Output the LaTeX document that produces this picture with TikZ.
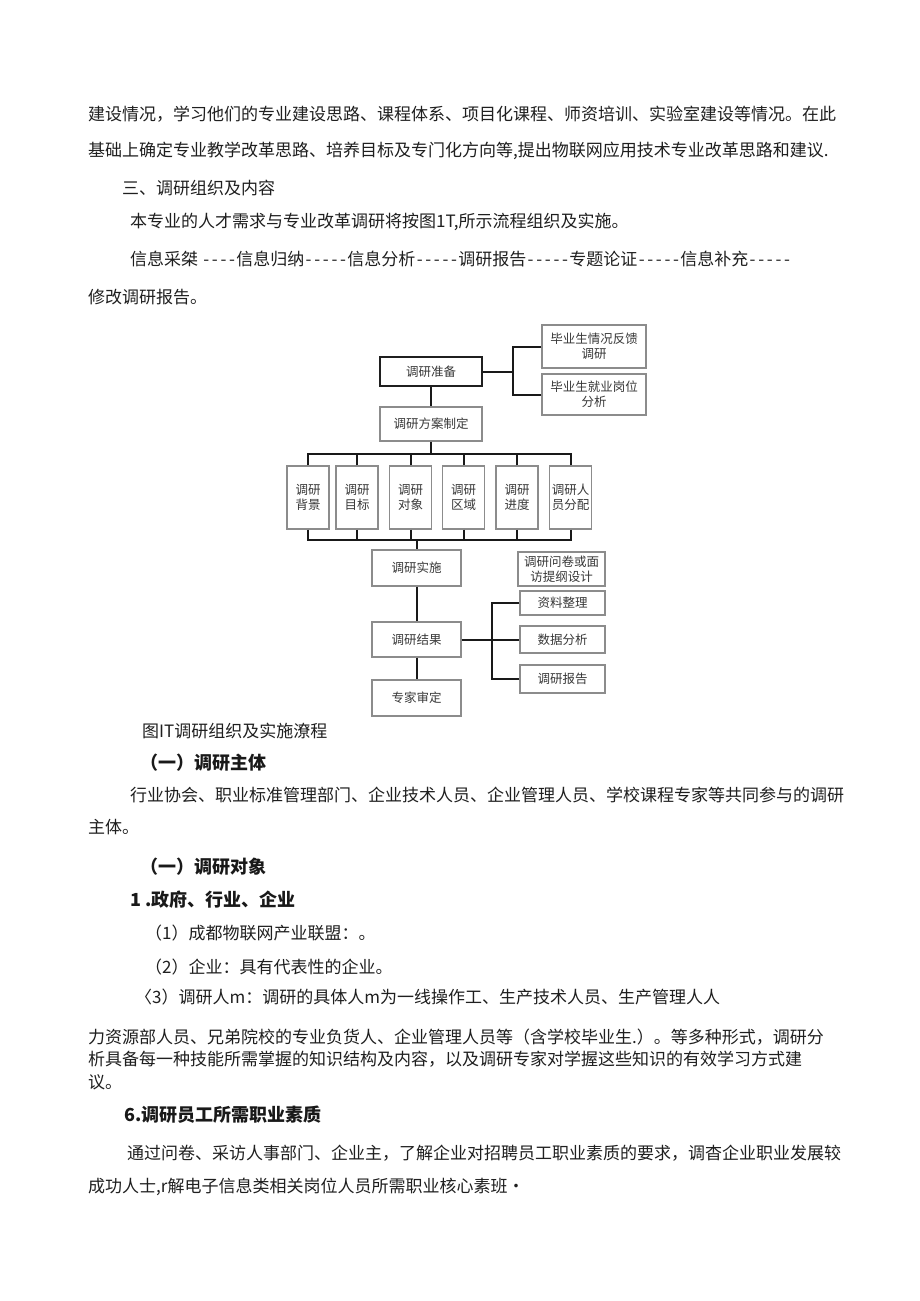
\documentclass[tikz,border=0pt]{standalone}
\usepackage{fontspec}
\setmainfont{Noto Sans CJK SC}
\XeTeXlinebreaklocale "zh"
\XeTeXlinebreakskip=0pt plus 3pt
\newcommand{\hy}{\makebox[8.6pt]{-}}
\begin{document}
\begin{tikzpicture}[x=1pt,y=-1pt,
  txt/.style={anchor=west,inner sep=0pt,font=\fontsize{17}{20}\selectfont,text=black!88},
  hd/.style={anchor=west,inner sep=0pt,font=\fontsize{18}{21}\selectfont\bfseries,text=black!90},
  box/.style={draw=black!45,line width=1.3pt,inner sep=1pt,align=center,font=\fontsize{12.5}{15}\selectfont,text=black!78},
  thickbox/.style={box,draw=black!88,line width=2.5pt},
  conn/.style={draw=black!90,line width=2pt}]
\fill[white] (0,0) rectangle (920,1301);
\useasboundingbox (0,0) rectangle (920,1301);

% ---- text above ----
\node[txt] (t1) at (88,114) {\makebox[750pt][s]{建设情况，学习他们的专业建设思路、课程体系、项目化课程、师资培训、实验室建设等情况。在此}};
\node[txt] (t2) at (88,151) {\makebox[750pt][s]{基础上确定专业教学改革思路、培养目标及专门化方向等,提出物联网应用技术专业改革思路和建议.}};
\node[txt] (t3) at (122,188) {三、调研组织及内容};
\node[txt] (t4) at (130,222) {本专业的人才需求与专业改革调研将按图1T,所示流程组织及实施。};
\node[txt] (t5) at (130,259) {信息采桀 \hy\hy\hy\hy 信息归纳\hy\hy\hy\hy\hy 信息分析\hy\hy\hy\hy\hy 调研报告\hy\hy\hy\hy\hy 专题论证\hy\hy\hy\hy\hy 信息补充\hy\hy\hy\hy\hy};
\node[txt] (t6) at (88,297) {修改调研报告。};

% ---- diagram ----
\node[thickbox,minimum width=102pt,minimum height=29pt] (prep) at (431,371.5) {调研准备};
\node[box,minimum width=102pt,minimum height=34pt] (plan) at (431,424) {调研方案制定};
\node[box,minimum width=104pt,minimum height=43pt] (fb) at (594,346.5) {毕业生情况反馈\\调研};
\node[box,minimum width=104pt,minimum height=41pt] (job) at (594,394.5) {毕业生就业岗位\\分析};
\foreach \n/\x/\t in {1/308/{调研\\背景},2/357/{调研\\目标},3/410.5/{调研\\对象},4/463.5/{调研\\区域},5/517/{调研\\进度},6/570.5/{调研人\\员分配}}
  \node[box,minimum width=42pt,minimum height=63pt,inner sep=0pt] (b\n) at (\x,497.5) {\t};
\node[box,minimum width=89pt,minimum height=36pt] (impl) at (416.5,568) {调研实施};
\node[box,minimum width=87pt,minimum height=34pt] (quest) at (561.5,569) {调研问卷或面\\访提纲设计};
\node[box,minimum width=89pt,minimum height=35pt] (result) at (416.5,639.5) {调研结果};
\node[box,minimum width=89pt,minimum height=36pt] (expert) at (416.5,698) {专家审定};
\node[box,minimum width=85pt,minimum height=24pt] (d1) at (562.5,603) {资料整理};
\node[box,minimum width=85pt,minimum height=27pt] (d2) at (562.5,639.5) {数据分析};
\node[box,minimum width=85pt,minimum height=28pt] (d3) at (562.5,679) {调研报告};

\path (prep.east) ++(30,0) coordinate (j1);
\draw[conn] (prep.east) -- (j1);
\draw[conn] (fb.west) -| (j1);
\draw[conn] (job.west) -| (j1);
\draw[conn] (prep.south) -- (plan.north);
\path (plan.south) ++(0,12) coordinate (tb);
\draw[conn] (plan.south) -- (tb);
\foreach \n in {1,...,6} \draw[conn] (b\n.north) |- (tb);
\coordinate (bb) at (416.5,540);
\foreach \n in {1,...,6} \draw[conn] (b\n.south) |- (bb);
\draw[conn] (bb) -- (impl.north);
\draw[conn] (impl.south) -- (result.north);
\draw[conn] (result.south) -- (expert.north);
\path (result.east) ++(30,0) coordinate (j2);
\draw[conn] (result.east) -- (j2);
\foreach \n in {1,2,3} \draw[conn] (d\n.west) -| (j2);

% ---- text below ----
\node[txt,font=\fontsize{17}{20}\selectfont] (t7) at (142,731) {图IT调研组织及实施潦程};
\node[hd] (t8) at (140,763) {（一）调研主体};
\node[txt] (t9) at (130,795) {\makebox[712pt][s]{行业协会、职业标准管理部门、企业技术人员、企业管理人员、学校课程专家等共同参与的调研}};
\node[txt] (t10) at (88,827) {主体。};
\node[hd] (t11) at (140,867) {（一）调研对象};
\node[hd] (t12) at (130,900) {1 .政府、行业、企业};
\node[txt] (t13) at (145,933) {（1）成都物联网产业联盟：。};
\node[txt] (t14) at (145,967) {（2）企业：具有代表性的企业。};
\node[txt] (t15) at (135,997) {〈3）调研人m：调研的具体人m为一线操作工、生产技术人员、生产管理人人};
\node[txt] (t16) at (88,1037) {\makebox[750pt][s]{力资源部人员、兄弟院校的专业负货人、企业管理人员等（含学校毕业生.）。等多种形式，调研分}};
\node[txt] (t17) at (88,1059) {析具备每一种技能所需掌握的知识结构及内容，以及调研专家对学握这些知识的有效学习方式建};
\node[txt] (t18) at (88,1082) {议。};
\node[hd] (t19) at (124,1115) {6.调研员工所需职业素质};
\node[txt] (t20) at (127,1153) {\makebox[715pt][s]{通过问卷、采访人事部门、企业主，了解企业对招聘员工职业素质的要求，调杳企业职业发展较}};
\node[txt] (t21) at (88,1187) {成功人士,r解电子信息类相关岗位人员所需职业核心素班•};
\end{tikzpicture}
\end{document}
